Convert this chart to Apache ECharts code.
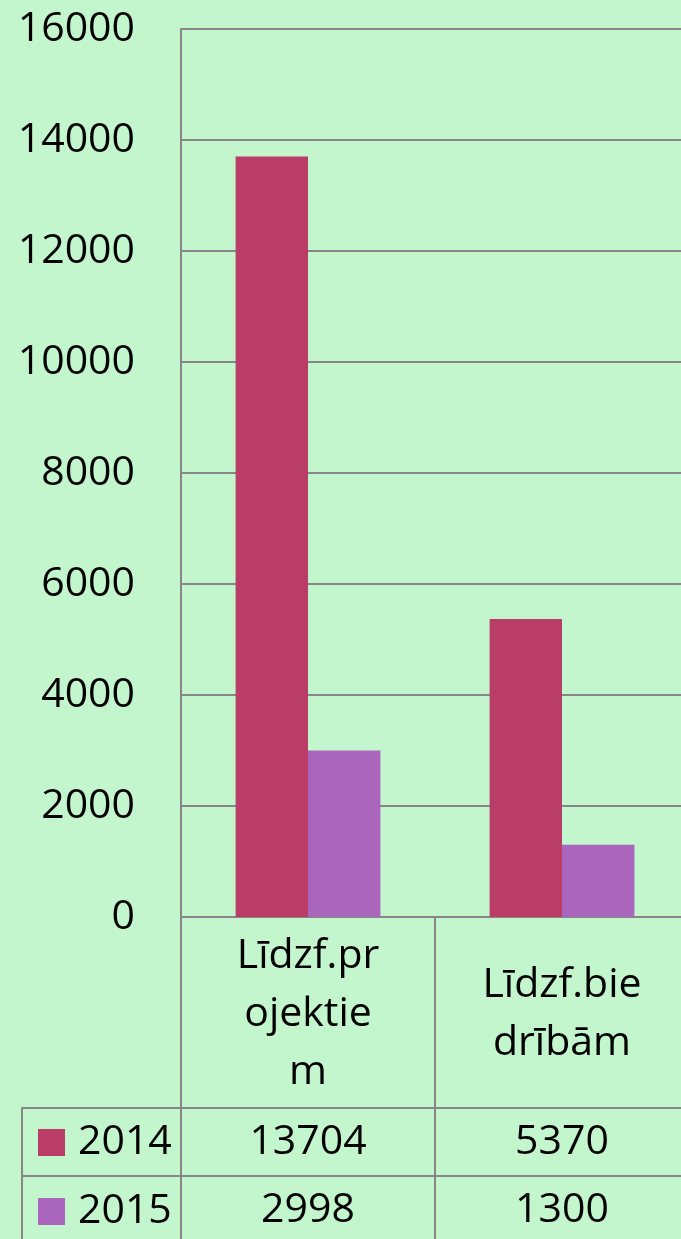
<!DOCTYPE html>
<html>
<head>
<meta charset="utf-8">
<script src="https://cdn.jsdelivr.net/npm/echarts@6/dist/echarts.min.js"></script>
<style>
html,body{margin:0;padding:0;background:#C4F6CD;}
#c{width:681px;height:1239px;}
</style>
</head>
<body>
<div id="c"></div>
<script>
const categories = ['Līdzf.pr\nojektie\nm', 'Līdzf.bie\ndrībām'];
const seriesNames = ['2014', '2015'];
const values2014 = [13704, 5370];
const values2015 = [2998, 1300];
const yTicks = [0, 2000, 4000, 6000, 8000, 10000, 12000, 14000, 16000];

const FONT = 'Open Sans';
const FS = 41;
const LINE = '#878787';
const COL = ['#B93D66', '#AA66BC'];

const chart = echarts.init(document.getElementById('c'));
chart.setOption({
  backgroundColor: '#C4F6CD',
  animation: false,
  textStyle: {fontFamily: FONT},
  legend: {
    data: seriesNames,
    orient: 'vertical',
    left: 38,
    top: 1122,
    padding: 0,
    itemWidth: 27,
    itemHeight: 27,
    itemGap: 28,
    icon: 'rect',
    textStyle: {fontFamily: FONT, fontSize: FS, lineHeight: 40, color: '#000', padding: [0, 0, 0, 8]}
  },
  grid: [
    {left: 181, top: 29, width: 508, height: 888, containLabel: false, outerBoundsMode: 'none'},
    {left: 22, top: 1108, width: 667, height: 136, containLabel: false, outerBoundsMode: 'none'}
  ],
  xAxis: [
    {
      type: 'category', gridIndex: 0, data: categories, position: 'bottom',
      axisLine: {show: true, lineStyle: {color: LINE, width: 2}},
      axisTick: {show: true, length: 322, lineStyle: {color: LINE, width: 2}},
      axisLabel: {fontFamily: FONT, fontSize: FS, lineHeight: 58, color: '#000', verticalAlign: 'middle', margin: 97, align: 'center', interval: 0}
    },
    {
      type: 'category', gridIndex: 0, data: categories, position: 'bottom', offset: 225,
      axisLine: {show: false}, axisTick: {show: false},
      axisLabel: {fontFamily: FONT, fontSize: FS, color: '#000', verticalAlign: 'middle', margin: 0, interval: 0,
        formatter: (v, i) => String(values2014[i])}
    },
    {
      type: 'category', gridIndex: 0, data: categories, position: 'bottom', offset: 293,
      axisLine: {show: false}, axisTick: {show: false},
      axisLabel: {fontFamily: FONT, fontSize: FS, color: '#000', verticalAlign: 'middle', margin: 0, interval: 0,
        formatter: (v, i) => String(values2015[i])}
    },
    {type: 'value', gridIndex: 1, show: false, min: 0, max: 1}
  ],
  yAxis: [
    {
      type: 'value', gridIndex: 0, min: yTicks[0], max: yTicks[yTicks.length - 1], interval: 2000,
      axisLine: {show: true, lineStyle: {color: LINE, width: 2}},
      axisTick: {show: false},
      splitLine: {show: true, lineStyle: {color: LINE, width: 2}},
      axisLabel: {fontFamily: FONT, fontSize: FS, color: '#000', margin: 46, formatter: v => String(v)}
    },
    {
      type: 'category', gridIndex: 1, data: seriesNames, inverse: true,
      axisLine: {show: true, lineStyle: {color: LINE, width: 2}},
      axisTick: {show: false},
      axisLabel: {show: false},
      splitLine: {show: true, lineStyle: {color: LINE, width: 2}}
    }
  ],
  series: [
    {name: seriesNames[0], type: 'bar', xAxisIndex: 0, yAxisIndex: 0, data: values2014,
      barGap: 0, barCategoryGap: '43%', itemStyle: {color: COL[0]}},
    {name: seriesNames[1], type: 'bar', xAxisIndex: 0, yAxisIndex: 0, data: values2015,
      barGap: 0, barCategoryGap: '43%', itemStyle: {color: COL[1]}}
  ]
});
</script>
</body>
</html>
